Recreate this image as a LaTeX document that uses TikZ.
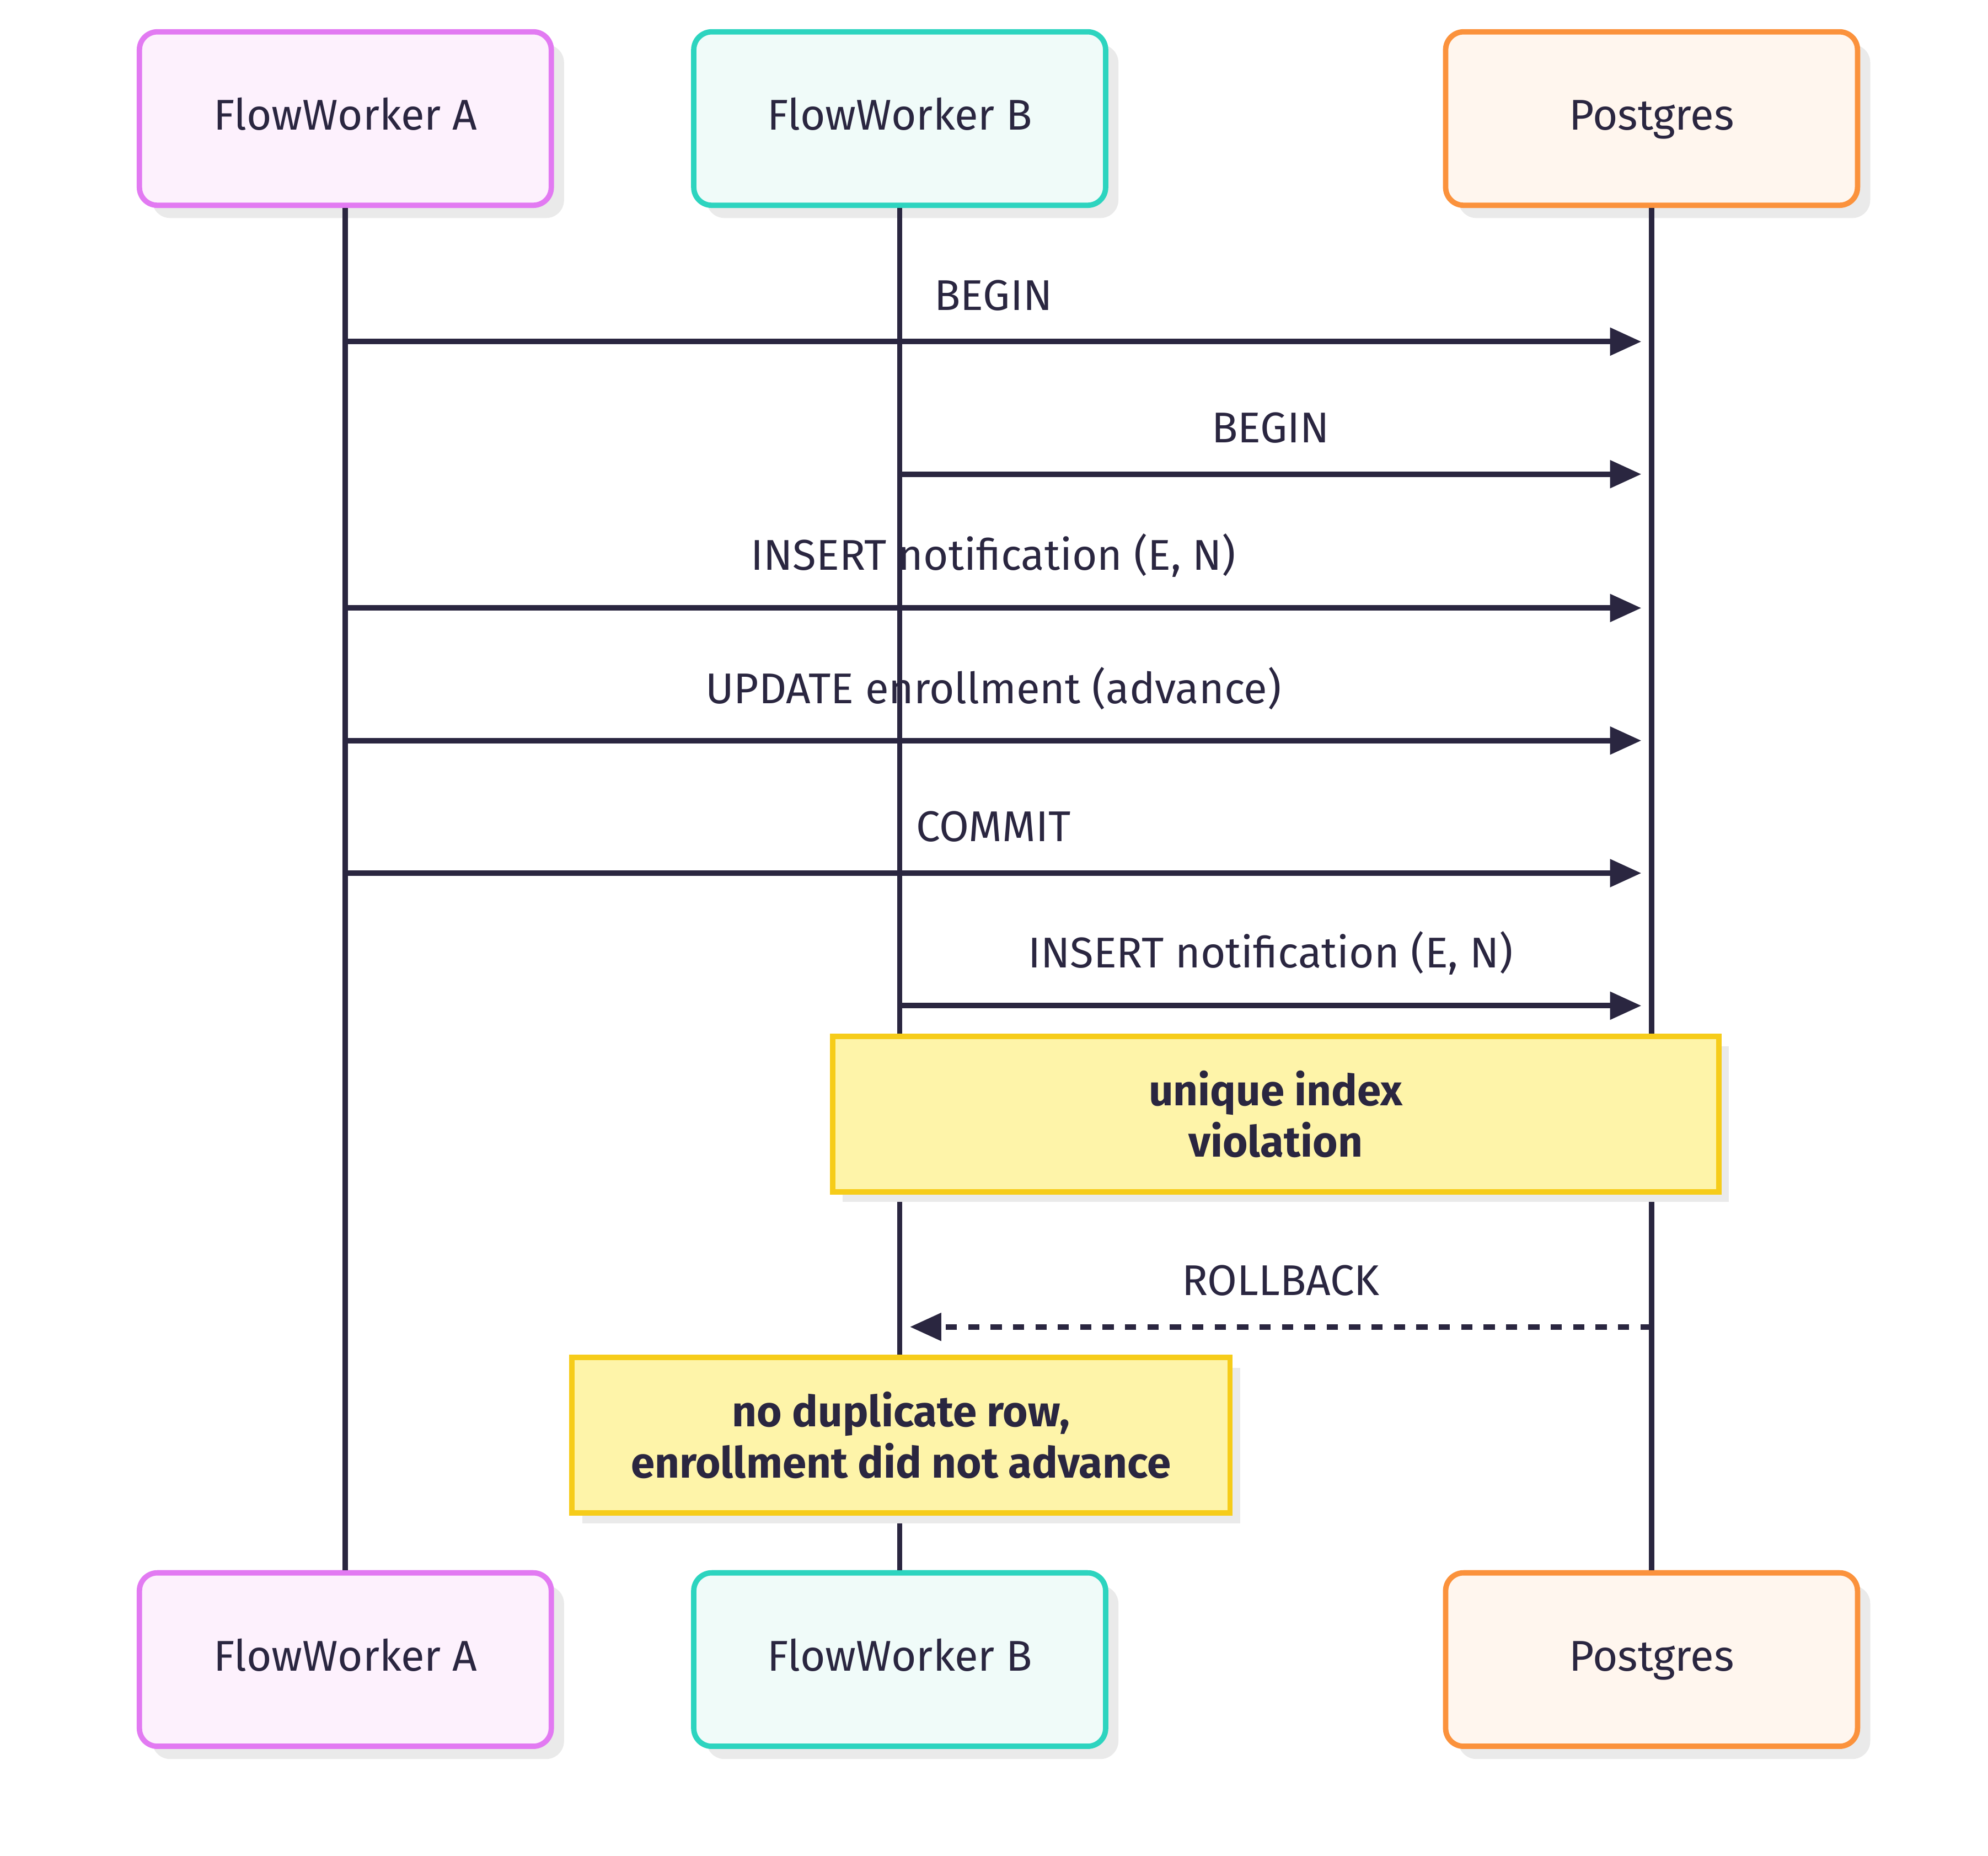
\documentclass[tikz,border=0pt]{standalone}
\usepackage{fontspec}
\setmainfont{Fira Sans}
\usetikzlibrary{positioning,calc,arrows.meta}
\definecolor{ink}{HTML}{2A2640}
\definecolor{shade}{HTML}{EAEAEA}
\definecolor{aline}{HTML}{E27AF2}
\definecolor{afill}{HTML}{FDF1FD}
\definecolor{bline}{HTML}{2DD4BF}
\definecolor{bfill}{HTML}{F0FBF9}
\definecolor{pline}{HTML}{FB923C}
\definecolor{pfill}{HTML}{FFF6EE}
\definecolor{nline}{HTML}{F6CC1A}
\definecolor{nfill}{HTML}{FEF4A9}

\begin{document}
\begin{tikzpicture}[x=0.01cm,y=-0.01cm,
         font=\fontsize{9.6}{11.5}\selectfont,
         actor/.style = {draw,line width=1.2pt,rounded corners=4pt,
            minimum width=3.23cm,minimum height=1.36cm,text=ink,
            text height=7pt,text depth=2pt,
            preaction={fill=shade,transform canvas={xshift=0.1cm,yshift=-0.1cm}}},
         note/.style = {draw=nline,fill=nfill,line width=1.2pt,text=ink,
            font=\fontsize{9.6}{11.5}\selectfont\bfseries,align=center,
            preaction={fill=shade,transform canvas={xshift=0.08cm,yshift=-0.08cm}}},
         life/.style = {ink,line width=1.2pt},
         msg/.style = {ink,line width=1.2pt,-{Triangle[length=7pt,width=6pt]}},
         reply/.style = {msg,dash pattern=on 2.5pt off 2.5pt},
         lbl/.style = {text=ink,above=3pt}
]
   \useasboundingbox (0,0) rectangle (1560,1456);

   % participants, top and bottom
   \foreach \id/\x/\col/\txt in {wa/271/a/FlowWorker A,wb/706/b/FlowWorker B,pg/1296/p/Postgres}{
      \node[actor,draw=\col line,fill=\col fill] (\id) at (\x,93) {\txt};
      \node[actor,draw=\col line,fill=\col fill] (\id-end) at (\x,1302) {\txt};
      \draw[life] (\id) -- (\id-end);
   }

   % messages
   \foreach \n/\from/\y/\txt in {1/wa/268/BEGIN,2/wb/372/BEGIN,
         3/wa/477/{INSERT notification (E, N)},4/wa/581/{UPDATE enrollment (advance)},
         5/wa/685/COMMIT,6/wb/789/{INSERT notification (E, N)}}{
      \coordinate (s\n) at (\from|-0,\y);
      \coordinate (t\n) at ($(pg|-0,\y)+(-8,0)$);
      \draw[msg] (s\n) -- node[lbl] {\txt} (t\n);
   }

   \node[note,minimum width=6.95cm,minimum height=1.22cm] (clash) at (1001,874)
      {unique index\\violation};

   \coordinate (rb0) at (pg|-0,1041);
   \coordinate (rb1) at ($(wb|-0,1041)+(8,0)$);
   \draw[reply] (rb0) -- node[lbl] {ROLLBACK} (rb1);

   \node[note,minimum width=5.16cm,minimum height=1.22cm] (outcome) at (707,1126)
      {no duplicate row,\\enrollment did not advance};
\end{tikzpicture}
\end{document}
